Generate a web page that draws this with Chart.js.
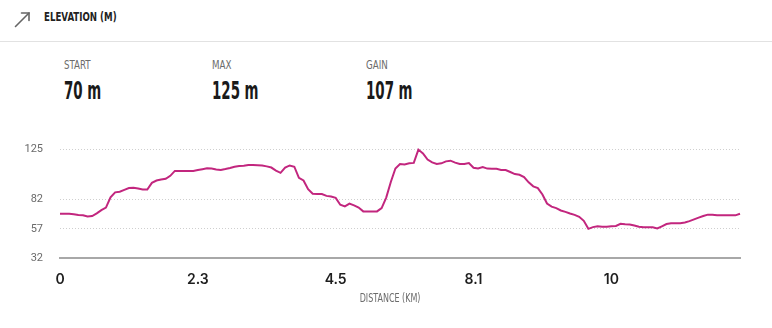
<!DOCTYPE html>
<html>
<head>
<meta charset="utf-8">
<script src="https://cdn.jsdelivr.net/npm/chart.js@4/dist/chart.umd.min.js"></script>
<style>
  html, body { margin: 0; padding: 0; background: #fff; width: 772px; height: 328px; overflow: hidden; }
  body { position: relative; font-family: "DejaVu Sans Condensed", "Liberation Sans", sans-serif; }
  .cond { font-family: "DejaVu Sans Condensed", "Liberation Sans", sans-serif; font-stretch: condensed; white-space: nowrap; }
  .sx { display: inline-block; transform-origin: 0 50%; }
  #title { position: absolute; left: 44px; top: 9px; font-size: 12.5px; font-weight: bold; color: #222; }
  #title .sx { transform: scaleX(0.77); }
  #sep { position: absolute; left: 0; top: 41px; width: 772px; height: 1px; background: #e2e2e2; }
  .stat { position: absolute; top: 58px; }
  .stat .lab { font-size: 11.5px; color: #6b6b6b; line-height: 14px; }
  .stat .lab .sx { transform: scaleX(0.84); }
  .stat .val { font-size: 24px; font-weight: bold; color: #1a1a1a; line-height: 26px; margin-top: 6px; }
  .stat .val .sx { transform: scaleX(0.62); }
  #xtitle { position: absolute; left: 290px; width: 200px; text-align: center; top: 291px; font-size: 12px; color: #6b6b6b; }
  #xtitle .sx { transform-origin: 50% 50%; transform: scaleX(0.74); }
  #wrap { position: absolute; left: 0; top: 126px; width: 753px; height: 182px; }
</style>
</head>
<body>
<svg style="position:absolute;left:0;top:0" width="40" height="40">
  <g stroke="#666" stroke-width="1.6" fill="none" stroke-linecap="round">
    <line x1="15.5" y1="26.5" x2="29" y2="13"/>
    <polyline points="21.5,13 29,13 29,20.5"/>
  </g>
</svg>
<div id="title" class="cond"><span class="sx">ELEVATION (M)</span></div>
<div id="sep"></div>
<div class="stat cond" style="left:64px"><div class="lab"><span class="sx">START</span></div><div class="val"><span class="sx" id="vStart"></span></div></div>
<div class="stat cond" style="left:212px"><div class="lab"><span class="sx">MAX</span></div><div class="val"><span class="sx" id="vMax"></span></div></div>
<div class="stat cond" style="left:366px"><div class="lab"><span class="sx">GAIN</span></div><div class="val"><span class="sx" id="vGain"></span></div></div>
<div id="wrap"><canvas id="c"></canvas></div>
<div id="xtitle" class="cond"><span class="sx">DISTANCE (KM)</span></div>
<script>
// ---- data ----
const statStart = 70;
const statMax = 125;
const statGain = 107;
const distanceTicks = ["0", "2.3", "4.5", "8.1", "10"];
const tickEvery = 30;
const yTicks = [32, 57, 82, 125];
const elevation = [
  70, 70, 70, 69.5, 68.9, 68.7, 67.6, 68, 70.3, 73.1,
  75.2, 84, 88.3, 88.9, 90.5, 92, 92.2, 91.7, 90.7, 90.8,
  96.5, 98.5, 99.3, 100, 102.5, 106.7, 106.7, 106.7, 106.7, 106.7,
  107.5, 108.2, 108.9, 108.8, 108, 107.6, 108.3, 109.2, 110.3, 110.9,
  111.1, 111.7, 111.7, 111.6, 111.4, 110.6, 109.6, 107, 105.1, 109.5,
  111.4, 110.3, 100.8, 98.5, 91, 87.1, 86.9, 86.9, 85.3, 84.7,
  83.6, 77.7, 76.3, 78.7, 77.1, 75.3, 72, 72, 72, 72,
  74.8, 83.8, 97.2, 108.8, 112.7, 112.2, 113.2, 113.6, 125, 121.7,
  116.5, 114, 112.7, 113.2, 114.9, 115.5, 113.8, 112.6, 112.6, 113.5,
  109.4, 108.8, 110, 108.7, 108.6, 108.6, 107.6, 107.5, 105.8, 104,
  103.4, 101.4, 96.9, 93.5, 92, 86.5, 78.7, 76.1, 74.8, 72.8,
  71.6, 70.2, 69, 67.3, 63.9, 57, 58.5, 59.3, 58.8, 58.8,
  59.3, 59.5, 61.3, 60.9, 60.7, 59.9, 58.8, 58.4, 58.4, 58.3,
  57.3, 59.2, 61.1, 61.8, 61.8, 61.8, 62.5, 63.6, 65.1, 66.6,
  68, 69.2, 69.2, 68.6, 68.6, 68.6, 68.6, 68.6, 70
];

document.getElementById('vStart').textContent = statStart + ' m';
document.getElementById('vMax').textContent = statMax + ' m';
document.getElementById('vGain').textContent = statGain + ' m';

const labels = elevation.map((_, i) => String(i));

new Chart(document.getElementById('c'), {
  type: 'line',
  data: {
    labels: labels,
    datasets: [{
      data: elevation,
      borderColor: '#c2267e',
      borderWidth: 2,
      pointRadius: 0,
      pointHoverRadius: 0,
      tension: 0,
      fill: false,
      clip: false
    }]
  },
  options: {
    responsive: true,
    maintainAspectRatio: false,
    animation: false,
    events: [],
    layout: { padding: { top: 10, right: 4, bottom: 0, left: 0 } },
    plugins: { legend: { display: false }, tooltip: { enabled: false } },
    scales: {
      x: {
        type: 'category',
        offset: false,
        grid: { display: false, drawTicks: false },
        border: { display: true, color: '#a8a8a8', width: 2 },
        ticks: {
          autoSkip: false,
          maxRotation: 0,
          minRotation: 0,
          padding: 13,
          color: '#1e1e1e',
          font: { family: 'Inter, "Open Sans", sans-serif', size: 14, weight: '600' },
          callback: function (v, i) {
            return (i % tickEvery === 0 && distanceTicks[i / tickEvery] !== undefined) ? distanceTicks[i / tickEvery] : '';
          }
        },
        afterFit: function (s) { s.height = 50; }
      },
      y: {
        type: 'linear',
        min: yTicks[0],
        max: yTicks[yTicks.length - 1],
        afterBuildTicks: function (s) { s.ticks = yTicks.map(v => ({ value: v })); },
        afterFit: function (s) { s.width = 60; },
        border: { display: false, dash: [1, 2] },
        grid: {
          drawTicks: false,
          lineWidth: 1,
          color: function (ctx) { return ctx.tick && ctx.tick.value === yTicks[0] ? 'rgba(0,0,0,0)' : '#cfcfcf'; }
        },
        ticks: {
          padding: 17,
          color: '#6a6a6a',
          font: { family: 'Roboto, "Open Sans", sans-serif', size: 11 }
        }
      }
    }
  }
});
</script>
</body>
</html>
